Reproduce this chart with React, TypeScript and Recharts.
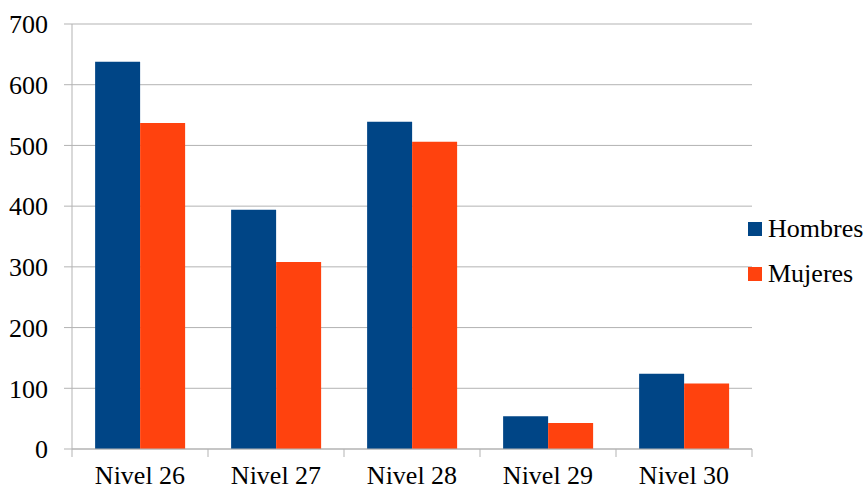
import React from 'react';
import { BarChart, Bar, XAxis, YAxis, CartesianGrid } from 'recharts';

// Categories and series values
const categories = ['Nivel 26', 'Nivel 27', 'Nivel 28', 'Nivel 29', 'Nivel 30'];
const hombres = [638, 394, 539, 54, 124];
const mujeres = [537, 308, 506, 43, 108];
const seriesNames = ['Hombres', 'Mujeres'];
const seriesColors = ['#004586', '#ff420e'];
const yTicks = [0, 100, 200, 300, 400, 500, 600, 700];

const data = categories.map((c, i) => ({ name: c, hombres: hombres[i], mujeres: mujeres[i] }));

const FONT = '"Liberation Serif", Tinos, "Times New Roman", "DejaVu Serif", serif';
const GRID = '#b3b3b3';

// Category label plus tick marks placed on the category boundaries
function CategoryTick(props: any) {
  const { x, y, payload, index, visibleTicksCount } = props;
  const half = payload && payload.offset ? payload.offset : 0;
  const isLast = index === visibleTicksCount - 1;
  return (
    <g>
      <line x1={x - half} x2={x - half} y1={y} y2={y + 8} stroke={GRID} />
      {isLast && <line x1={x + half} x2={x + half} y1={y} y2={y + 8} stroke={GRID} />}
      <text x={x} y={y + 17} dy="0.71em" textAnchor="middle" fontFamily={FONT} fontSize={26} fill="#000">
        {payload.value}
      </text>
    </g>
  );
}

export default function App() {
  return (
    <div style={{ position: 'absolute', left: 0, top: 0, width: 866, height: 490, background: '#fff' }}>
      <BarChart
        width={866}
        height={490}
        data={data}
        margin={{ top: 24, right: 114, bottom: 0, left: 0 }}
        barCategoryGap="17%"
        barGap={0}
      >
        <CartesianGrid horizontal vertical={false} stroke={GRID} />
        <XAxis
          dataKey="name"
          height={41}
          axisLine={{ stroke: GRID }}
          tickLine={false}
          tickSize={0}
          tickMargin={0}
          interval={0}
          tick={<CategoryTick />}
        />
        <YAxis
          width={72}
          domain={[0, 700]}
          ticks={yTicks}
          interval={0}
          tickSize={8}
          tickMargin={16}
          axisLine={{ stroke: GRID }}
          tickLine={{ stroke: GRID }}
          tick={{ fontFamily: FONT, fontSize: 26, fill: '#000' }}
        />
        <YAxis
          yAxisId="right"
          orientation="right"
          width={0}
          tick={false}
          tickLine={false}
          axisLine={{ stroke: GRID }}
        />
        <Bar dataKey="hombres" name={seriesNames[0]} fill={seriesColors[0]} isAnimationActive={false} />
        <Bar dataKey="mujeres" name={seriesNames[1]} fill={seriesColors[1]} isAnimationActive={false} />
      </BarChart>
      <div style={{ position: 'absolute', left: 748, top: 214, fontFamily: FONT, fontSize: 26, color: '#000' }}>
        {seriesNames.map((n, i) => (
          <div key={n} style={{ display: 'flex', alignItems: 'center', height: 30, marginBottom: i === 0 ? 15 : 0 }}>
            <span style={{ display: 'inline-block', width: 14, height: 14, background: seriesColors[i], marginRight: 6 }} />
            <span style={{ lineHeight: '30px' }}>{n}</span>
          </div>
        ))}
      </div>
    </div>
  );
}
